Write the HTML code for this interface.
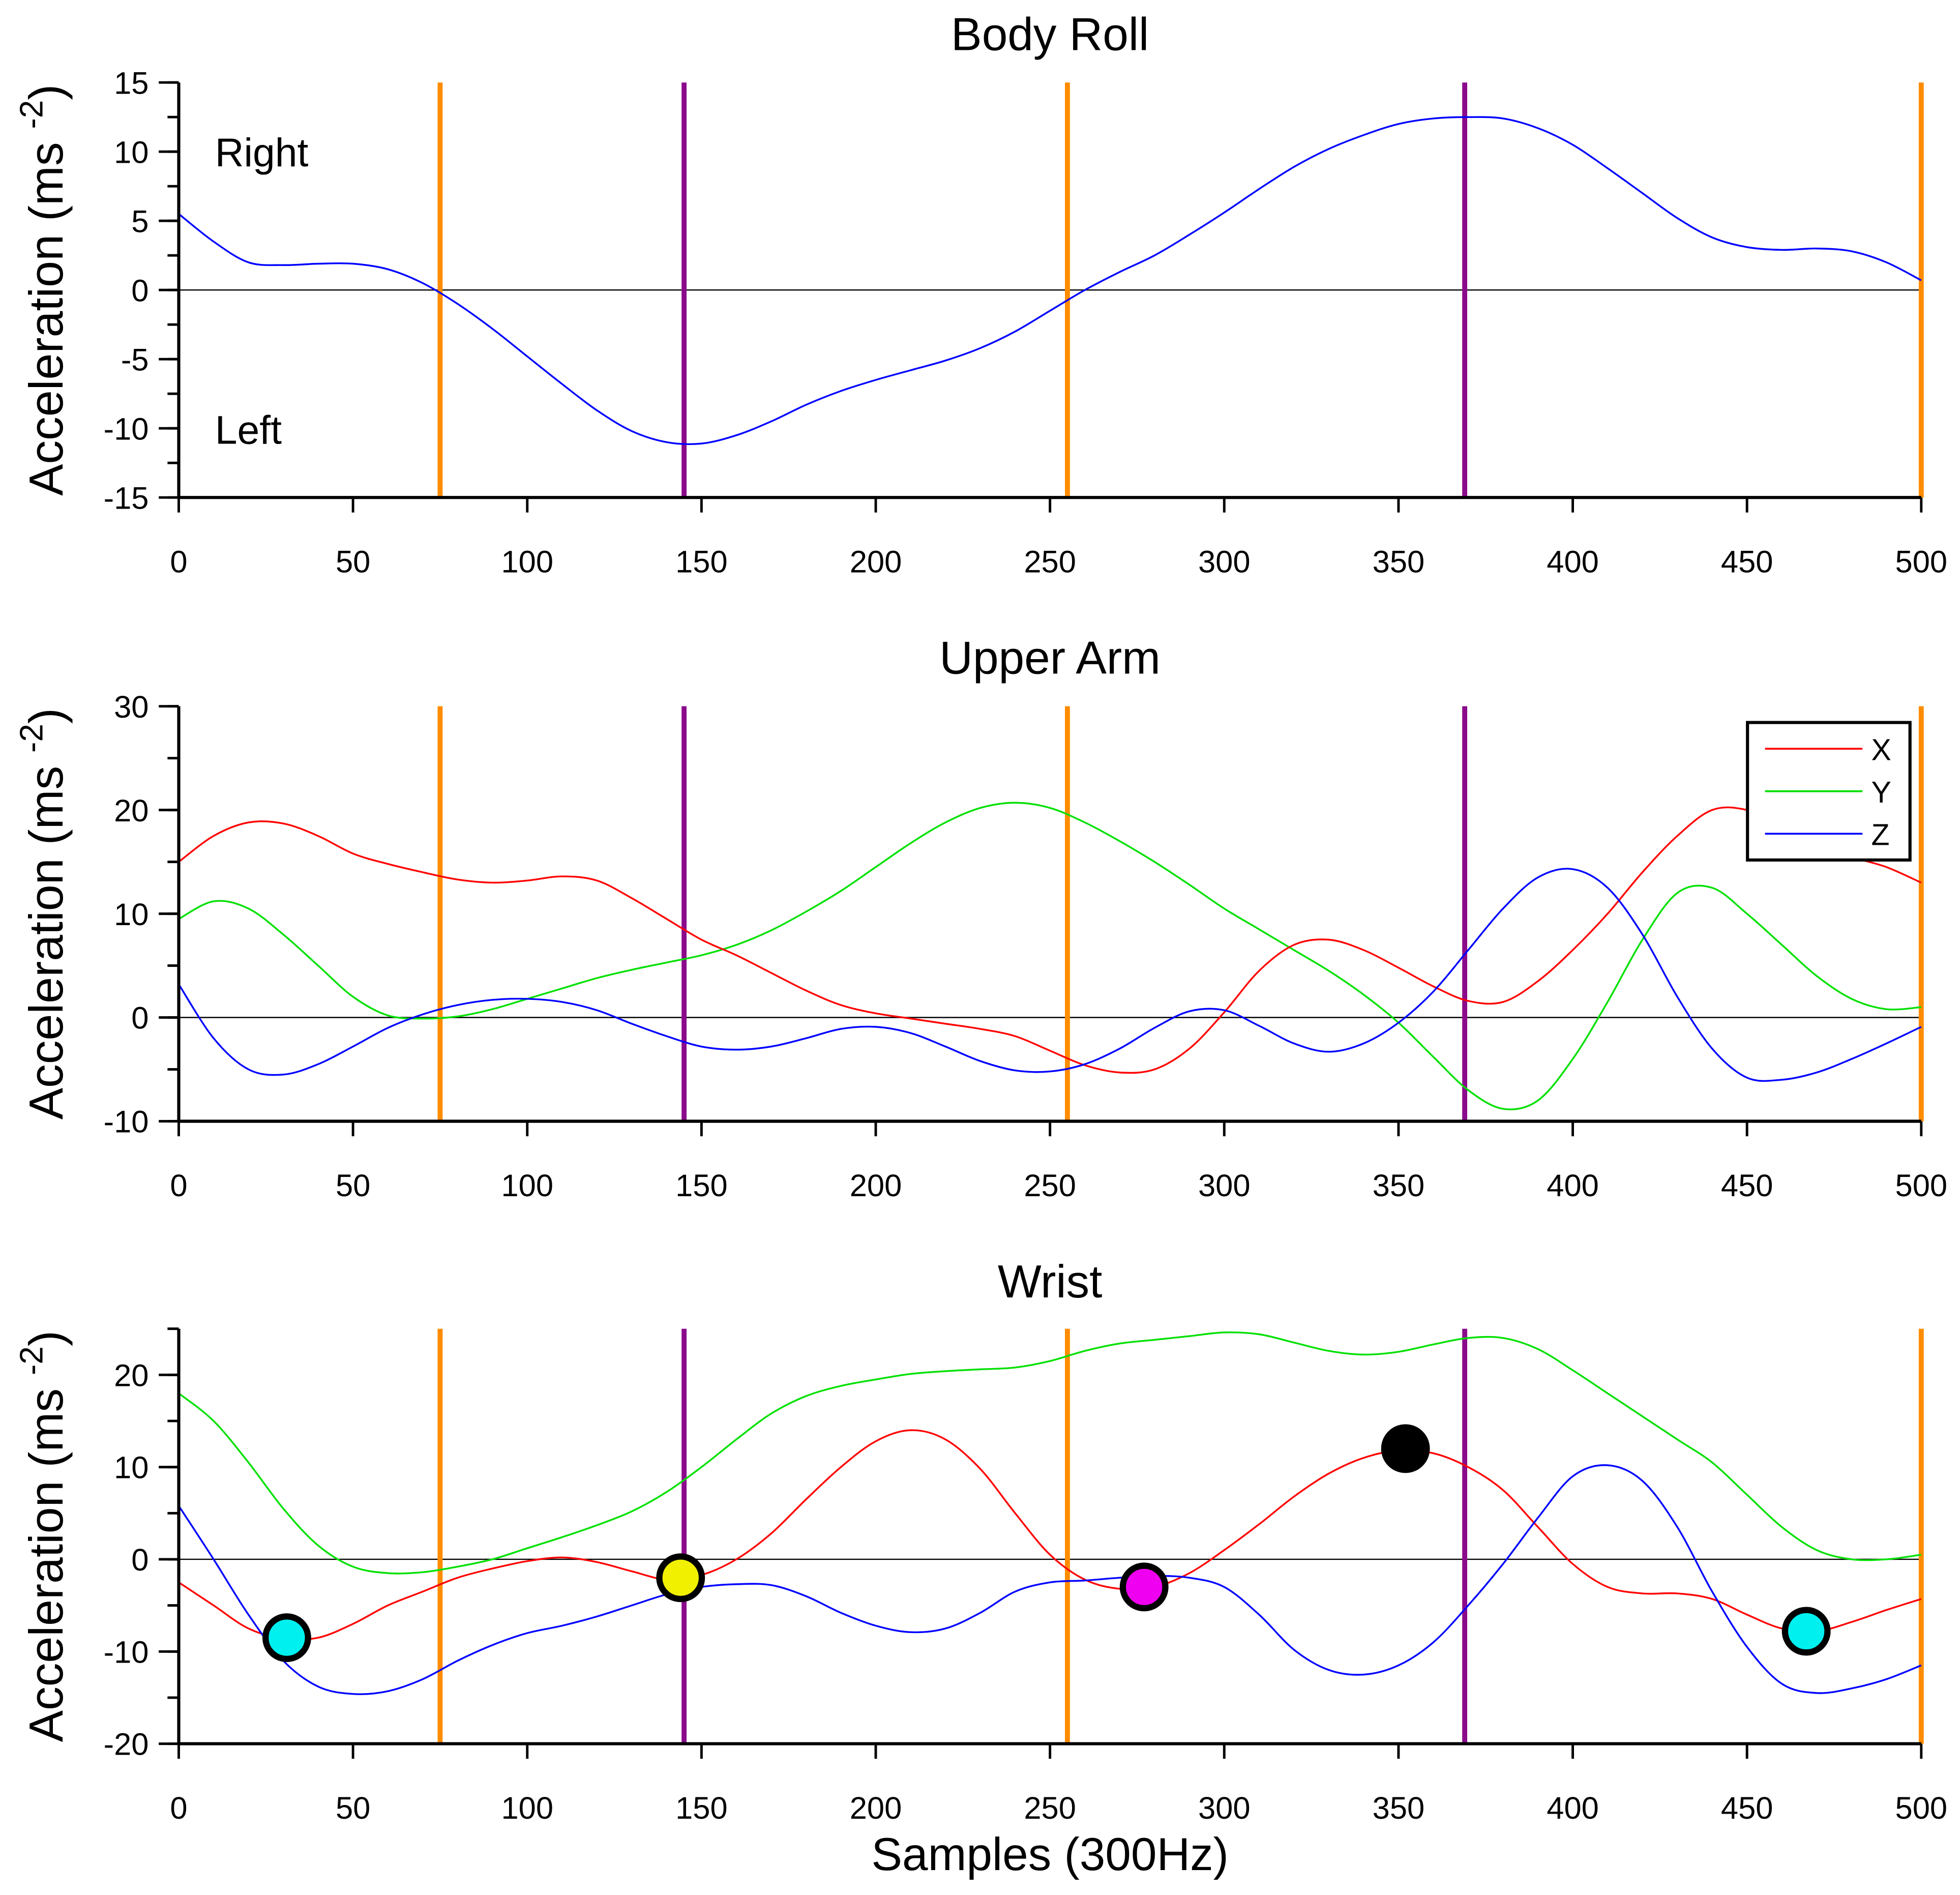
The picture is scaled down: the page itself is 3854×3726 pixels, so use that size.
<!DOCTYPE html>
<html><head><meta charset="utf-8"><style>
html,body{margin:0;padding:0;background:#fff}
svg{display:block}
text{font-family:"Liberation Sans",sans-serif;fill:#000}
</style></head><body>
<svg id="chart" width="3854" height="3726" viewBox="0 0 1568 1516" preserveAspectRatio="none" xmlns="http://www.w3.org/2000/svg">
<rect width="1568" height="1516" fill="#fff"/>
</svg>
<script>
const sampleX = [0,10,20,30,40,50,60,70,80,90,100,110,120,130,140,150,160,170,180,190,200,210,220,230,240,250,260,270,280,290,300,310,320,330,340,350,360,370,380,390,400,410,420,430,440,450,460,470,480,490,500];
const bodyRollZ = [5.5,3.5,2.0,1.8,1.9,1.9,1.5,0.5,-1,-2.8,-4.8,-6.8,-8.7,-10.2,-11.0,-11.1,-10.5,-9.5,-8.3,-7.3,-6.5,-5.8,-5.1,-4.2,-3.0,-1.5,0,1.3,2.5,4,5.6,7.3,8.9,10.2,11.2,12.0,12.4,12.5,12.4,11.7,10.5,8.8,7.0,5.2,3.8,3.1,2.9,3.0,2.8,2.0,0.7];
const armX = [15,17.5,18.8,18.7,17.5,15.8,14.8,14,13.3,13,13.2,13.6,13.2,11.5,9.5,7.5,6,4.3,2.6,1.2,0.4,-0.1,-0.6,-1.1,-1.8,-3.2,-4.6,-5.3,-5,-3,0.5,4.5,7,7.5,6.5,4.8,3,1.6,1.5,3.5,6.5,10,14,17.5,20,20,18.5,17,15.5,14.5,13];
const armY = [9.5,11.2,10.5,8,5,2,0.2,-0.1,0.1,0.8,1.8,2.8,3.8,4.6,5.3,6,7,8.4,10.2,12.2,14.5,16.8,18.8,20.2,20.7,20.2,18.8,17,15,12.8,10.5,8.5,6.5,4.5,2.2,-0.5,-3.8,-7,-8.8,-8,-4,1.5,7.5,12,12.5,10,7,4,1.8,0.8,1];
const armZ = [3.2,-2,-5,-5.5,-4.5,-2.8,-1,0.3,1.2,1.7,1.8,1.5,0.7,-0.6,-1.8,-2.8,-3.1,-2.8,-2,-1.1,-0.9,-1.5,-2.8,-4.2,-5.1,-5.2,-4.5,-3,-1,0.6,0.7,-0.8,-2.5,-3.3,-2.5,-0.5,2.5,6.5,10.5,13.5,14.3,12.5,8,2,-3,-5.8,-6,-5.3,-4,-2.5,-0.9];
const wristX = [-2.5,-5,-7.5,-8.6,-8.5,-7,-5,-3.5,-2,-1,-0.2,0.2,-0.3,-1.3,-2.2,-1.7,0,2.8,6.5,10,12.8,14,13,9.8,5,0.5,-2.2,-3.2,-3,-1.5,1,3.8,6.8,9.3,11,11.8,11.5,10,7.5,3.5,-0.5,-3,-3.7,-3.7,-4.3,-6,-7.5,-7.8,-6.8,-5.5,-4.3];
const wristY = [18,15,10.5,5.5,1.5,-0.8,-1.5,-1.4,-0.8,0,1.2,2.4,3.7,5.2,7.3,10,13,15.8,17.7,18.8,19.5,20.1,20.4,20.6,20.8,21.5,22.6,23.4,23.8,24.2,24.6,24.4,23.5,22.6,22.2,22.5,23.3,24,24,22.8,20.5,18,15.5,13,10.5,7,3.5,1,0,0,0.5];
const wristZ = [5.8,0,-6,-11,-13.8,-14.6,-14.3,-13,-11,-9.3,-8,-7.2,-6.2,-5,-3.8,-3,-2.7,-2.8,-4,-5.8,-7.2,-7.9,-7.5,-5.8,-3.5,-2.5,-2.3,-2,-1.8,-2,-3,-6,-9.8,-12,-12.5,-11.5,-9,-5,-0.5,4.5,9,10.2,8.5,3.5,-3.5,-9.5,-13.5,-14.5,-14,-13,-11.5];
const markerX = [31,144,277,352,467];
const markerY = [-8.5,-2,-3,12,-7.8];
const markerColors = ['#00f0f0','#f0f000','#f000f0','#000000','#00f0f0'];
const orangeEvents = [75,255,500];
const purpleEvents = [145,369];
const xTicks = [0,50,100,150,200,250,300,350,400,450,500];
const rollTicks = [15,10,5,0,-5,-10,-15];
const armTicks = [30,20,10,0,-10];
const wristTicks = [20,10,0,-10,-20];

const NS='http://www.w3.org/2000/svg';
const svg=document.getElementById('chart');
function mk(tag,attrs,parent){const e=document.createElementNS(NS,tag);for(const k in attrs)e.setAttribute(k,attrs[k]);(parent||svg).appendChild(e);return e;}
const X0=143,X1=1537;
function sx(v){return X0+(v/500)*(X1-X0);}
function smooth(pts){let d='M'+pts[0][0]+','+pts[0][1];for(let i=0;i<pts.length-1;i++){const p0=pts[i-1]||pts[i],p1=pts[i],p2=pts[i+1],p3=pts[i+2]||p2;const c1=[p1[0]+(p2[0]-p0[0])/6,p1[1]+(p2[1]-p0[1])/6],c2=[p2[0]-(p3[0]-p1[0])/6,p2[1]-(p3[1]-p1[1])/6];d+=' C'+c1[0].toFixed(2)+','+c1[1].toFixed(2)+' '+c2[0].toFixed(2)+','+c2[1].toFixed(2)+' '+p2[0].toFixed(2)+','+p2[1].toFixed(2);}return d;}

function panel(name,title,titleY,top,bottom,ymax,ymin,ticks,minorStep,series){
  const g=mk('g',{});
  
  
  const sy=v=>top+(ymax-v)/(ymax-ymin)*(bottom-top);
  const t=mk('text',{x:840,y:titleY,'font-size':37,'text-anchor':'middle'},g);t.textContent=title;
  
  
  const z=mk('line',{x1:X0,x2:X1,y1:sy(0),y2:sy(0),stroke:'#000','stroke-width':1},g);
  
  
  orangeEvents.forEach(v=>{const l=mk('line',{x1:sx(v),x2:sx(v),y1:top,y2:bottom,stroke:'#ff8c00','stroke-width':4},g);
    
    });
  purpleEvents.forEach(v=>{const l=mk('line',{x1:sx(v),x2:sx(v),y1:top,y2:bottom,stroke:'#8b0a8b','stroke-width':4},g);
    
    });
  series.forEach(s=>{const p=mk('path',{d:smooth(sampleX.map((x,i)=>[sx(x),sy(s.v[i])])),fill:'none',stroke:s.c,'stroke-width':1.4},g);
    
    });
  const ya=mk('line',{x1:X0,x2:X0,y1:top,y2:bottom,stroke:'#000','stroke-width':2.5},g);
  
  
  const xa=mk('line',{x1:X0-1,x2:X1,y1:bottom,y2:bottom,stroke:'#000','stroke-width':2.5},g);
  
  
  for(let v=ymin;v<=ymax+0.001;v+=minorStep){mk('line',{x1:X0-9,x2:X0,y1:sy(v),y2:sy(v),stroke:'#000','stroke-width':2},g);}
  ticks.forEach(v=>{mk('line',{x1:X0-16,x2:X0,y1:sy(v),y2:sy(v),stroke:'#000','stroke-width':2},g);
    const tl=mk('text',{x:X0-24,y:sy(v)+9,'font-size':25,'text-anchor':'end'},g);tl.textContent=v;
    
    });
  xTicks.forEach(v=>{mk('line',{x1:sx(v),x2:sx(v),y1:bottom,y2:bottom+12,stroke:'#000','stroke-width':2},g);
    const tl=mk('text',{x:sx(v),y:bottom+60,'font-size':25,'text-anchor':'middle'},g);tl.textContent=v;
    
    });
  const yl=mk('text',{transform:'translate(50,'+((top+bottom)/2)+') rotate(-90)','font-size':38,'text-anchor':'middle'},g);
  yl.innerHTML='Acceleration (ms <tspan font-size="26" dy="-16">-2</tspan><tspan dy="16">)</tspan>';
  
  
  return sy;
}

panel('body-roll','Body Roll',40,66,398,15,-15,rollTicks,2.5,[{n:'z',c:'#0000ff',v:bodyRollZ}]);
const r=mk('text',{x:172,y:133,'font-size':32});r.textContent='Right';


const lf=mk('text',{x:172,y:355,'font-size':32});lf.textContent='Left';



panel('upper-arm','Upper Arm',539,565,897,30,-10,armTicks,5,[{n:'y',c:'#00e000',v:armY},{n:'x',c:'#ff0000',v:armX},{n:'z',c:'#0000ff',v:armZ}]);

const sy3=panel('wrist','Wrist',1038,1063,1395,25,-20,wristTicks,5,[{n:'y',c:'#00e000',v:wristY},{n:'x',c:'#ff0000',v:wristX},{n:'z',c:'#0000ff',v:wristZ}]);
markerX.forEach((v,i)=>{const c=mk('circle',{cx:sx(v),cy:sy3(markerY[i]),r:17,fill:markerColors[i],stroke:'#000','stroke-width':5});
  
  });
const xl=mk('text',{x:840,y:1496,'font-size':37,'text-anchor':'middle'});xl.textContent='Samples (300Hz)';



const lg=mk('g',{});


mk('rect',{x:1398,y:578,width:130,height:110,fill:'#fff',stroke:'#000','stroke-width':2.5},lg);
[['X','#ff0000',599],['Y','#00e000',633],['Z','#0000ff',667]].forEach(e=>{
  mk('line',{x1:1412,x2:1490,y1:e[2],y2:e[2],stroke:e[1],'stroke-width':1.5},lg);
  const t=mk('text',{x:1497,y:e[2]+9,'font-size':24},lg);t.textContent=e[0];
  
  
});
</script>
</body></html>
